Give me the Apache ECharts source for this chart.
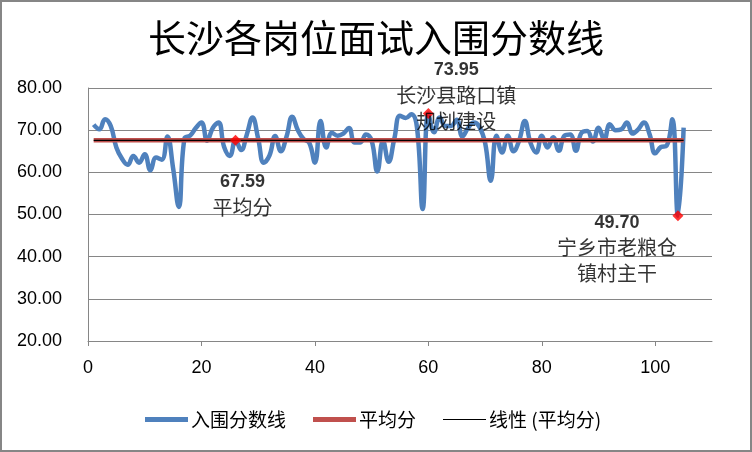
<!DOCTYPE html>
<html>
<head>
<meta charset="utf-8">
<script src="https://cdn.jsdelivr.net/npm/echarts@6/dist/echarts.min.js"></script>
<style>
html,body{margin:0;padding:0;background:#fff;}
#chart{width:752px;height:452px;}
</style>
</head>
<body>
<div id="chart"></div>
<script>
// ---- data ----
const titleText = '长沙各岗位面试入围分数线';
const seriesNames = ['入围分数线', '平均分', '线性 (平均分)'];
const scores = [
  71.3, 70.2, 72.6, 71.0, 65.9, 63.2, 61.8, 63.9, 62.3, 64.3,
  60.5, 63.5, 63.0, 68.5, 61.0, 51.8, 68.0, 68.7, 70.5, 71.8,
  67.5, 70.5, 71.8, 66.0, 63.9, 67.6, 65.3, 69.0, 73.0, 68.0,
  62.3, 64.0, 68.6, 65.0, 68.5, 73.2, 70.0, 67.9, 67.0, 62.3,
  72.2, 65.9, 69.4, 68.7, 69.2, 70.5, 67.1, 67.1, 69.0, 67.5,
  60.2, 67.5, 62.5, 68.0, 73.4, 72.9, 73.8, 70.6, 51.3, 73.95,
  69.5, 73.0, 71.0, 71.0, 72.5, 68.5, 70.5, 71.8, 70.8, 67.0,
  58.0, 68.7, 64.7, 68.7, 65.0, 67.5, 72.2, 67.0, 64.7, 68.7,
  65.9, 68.3, 65.1, 68.7, 69.0, 65.1, 69.4, 69.8, 67.3, 70.6,
  67.8, 71.4, 70.0, 70.2, 71.8, 69.2, 70.2, 71.8, 69.0, 64.5,
  66.0, 66.3, 72.6, 49.70, 70.6
];
const avgScore = 67.59;
const markX = [26, 60, 104];
const markY = [67.59, 73.95, 49.70];
const markLines = [['平均分'], ['长沙县路口镇', '规划建设'], ['宁乡市老粮仓', '镇村主干']];
const xTicks = [0, 20, 40, 60, 80, 100];

// ---- build ----
const lineData = scores.map((v, i) => [i + 1, v]);
const avgData = scores.map((v, i) => [i + 1, avgScore]);
const labelOffsets = [[7, 55], [28, -17], [-61, 33]];
const markData = markX.map((x, k) => ({
  value: [x, markY[k]],
  label: {
    show: true,
    position: 'inside',
    offset: labelOffsets[k],
    align: 'center',
    verticalAlign: 'middle',
    formatter: '{n|' + markY[k].toFixed(2) + '}\n' + markLines[k].map(t => '{t|' + t + '}').join('\n'),
    rich: {
      n: {fontFamily: 'Liberation Sans, Arial', fontWeight: 'bold', fontSize: 18, color: '#000', lineHeight: 24, align: 'center'},
      t: {fontFamily: 'Noto Sans CJK SC', fontSize: 20, color: '#000', lineHeight: 26, align: 'center'}
    }
  }
}));

const chart = echarts.init(document.getElementById('chart'), null, {renderer: 'canvas'});
chart.setOption({
  animation: false,
  backgroundColor: '#fff',
  title: {
    text: titleText,
    left: 'center',
    top: 14,
    textStyle: {fontFamily: 'Noto Sans CJK SC', fontSize: 38, fontWeight: 'normal', color: '#000'}
  },
  graphic: [{
    type: 'rect', silent: true, z: 100,
    shape: {x: 1, y: 1, width: 750, height: 450},
    style: {fill: 'none', stroke: '#868686', lineWidth: 2}
  }],
  legend: {
    bottom: 18,
    left: 140,
    itemWidth: 43,
    itemHeight: 14,
    itemGap: 27,
    symbolKeepAspect: true,
    data: [
      {name: seriesNames[0], icon: 'path://M0,0H43V5H0Z', itemStyle: {color: '#4F81BD'}},
      {name: seriesNames[1], icon: 'path://M0,0H43V5H0Z', itemStyle: {color: '#C0504D'}},
      {name: seriesNames[2], icon: 'path://M0,0H43V1H0Z', itemStyle: {color: '#000'}}
    ],
    textStyle: {fontFamily: 'Noto Sans CJK SC', fontSize: 19, color: '#000', padding: [0, 0, 0, -2]}
  },
  grid: {left: 88, right: 40, top: 88, bottom: 111, containLabel: false},
  xAxis: {
    type: 'value', min: 0, max: 110, interval: 20,
    axisLine: {show: true, onZero: false, lineStyle: {color: '#868686', width: 1}},
    axisTick: {show: true, length: 5, inside: false, customValues: xTicks, lineStyle: {color: '#868686'}},
    axisLabel: {customValues: xTicks, margin: 18, fontFamily: 'Liberation Sans, Arial', fontSize: 18, color: '#000'},
    splitLine: {show: false}
  },
  yAxis: {
    type: 'value', min: 20, max: 80, interval: 10,
    axisLine: {show: true, lineStyle: {color: '#868686', width: 1}},
    axisTick: {show: false},
    axisLabel: {margin: 26, fontFamily: 'Liberation Sans, Arial', fontSize: 18, color: '#000',
      formatter: v => v.toFixed(2)},
    splitLine: {show: true, lineStyle: {color: '#868686', width: 1}}
  },
  series: [
    {
      name: seriesNames[0], type: 'line', data: lineData, smooth: 0.45,
      symbol: 'none', lineStyle: {color: '#4F81BD', width: 4.5}, itemStyle: {color: '#4F81BD'}, z: 2
    },
    {
      name: seriesNames[1], type: 'line', data: avgData,
      symbol: 'none', lineStyle: {color: '#C0504D', width: 4.5}, itemStyle: {color: '#C0504D'}, z: 3
    },
    {
      name: seriesNames[2], type: 'line', data: avgData,
      symbol: 'none', lineStyle: {color: '#000', width: 1.2}, itemStyle: {color: '#000'}, z: 4
    },
    {
      name: 'marks', type: 'scatter', data: markData,
      symbol: 'diamond', symbolSize: 11, itemStyle: {color: '#FF0000'}, z: 5
    }
  ]
});
</script>
</body>
</html>
